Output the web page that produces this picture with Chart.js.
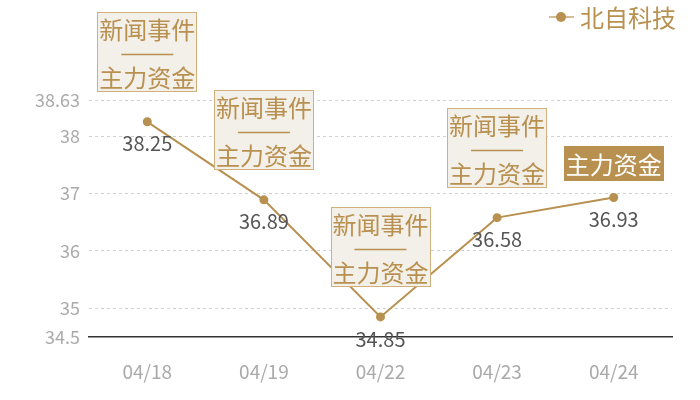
<!DOCTYPE html>
<html>
<head>
<meta charset="utf-8">
<script src="https://cdn.jsdelivr.net/npm/chart.js@4/dist/chart.umd.min.js"></script>
<style>
  html, body { margin: 0; padding: 0; background: #fff; }
  #wrap { width: 700px; height: 400px; }
</style>
</head>
<body>
<div id="wrap"><canvas id="priceChart"></canvas></div>
<script>
// data
const dates = ['04/18', '04/19', '04/22', '04/23', '04/24'];
const prices = [38.25, 36.89, 34.85, 36.58, 36.93];
const yTicks = [34.5, 35, 36, 37, 38, 38.63];
const seriesName = '北自科技';
// annotation per point: lines of text, and whether box is filled
const notes = [
    ['新闻事件', '——', '主力资金'],
    ['新闻事件', '——', '主力资金'],
    ['新闻事件', '——', '主力资金'],
    ['新闻事件', '——', '主力资金'],
    ['主力资金']
];
const noteFilled = [false, false, false, false, true];

const GOLD = '#b8904f';
const FONT = '"Noto Sans CJK SC", "Noto Sans", sans-serif';

// labels under points + annotation boxes + legend
const overlayPlugin = {
    id: 'overlay',
    afterDatasetsDraw(chart) {
        const ctx = chart.ctx;
        const meta = chart.getDatasetMeta(0);
        ctx.save();
        ctx.font = '20px ' + FONT;
        ctx.fillStyle = '#555';
        ctx.textAlign = 'center';
        ctx.textBaseline = 'middle';
        meta.data.forEach((pt, i) => {
            ctx.fillText(prices[i].toFixed(2), pt.x, pt.y + 22);
        });

        ctx.font = '24px ' + FONT;
        meta.data.forEach((pt, i) => {
            const lines = notes[i];
            const w = 100;
            const h = noteFilled[i] ? 35 : 80;
            const gap = noteFilled[i] ? 17 : 30;
            const x0 = Math.round(pt.x - w / 2);
            const y0 = Math.round(pt.y - gap - h);
            if (noteFilled[i]) {
                ctx.fillStyle = GOLD;
                ctx.fillRect(x0, y0, w, h);
                ctx.fillStyle = '#fff';
                ctx.fillText(lines[0], pt.x, y0 + h / 2 + 1);
            } else {
                ctx.fillStyle = '#f3efe9';
                ctx.fillRect(x0, y0, w, h);
                ctx.strokeStyle = '#d2b07c';
                ctx.lineWidth = 1;
                ctx.strokeRect(x0 + 0.5, y0 + 0.5, w - 1, h - 1);
                ctx.fillStyle = GOLD;
                ctx.fillText(lines[0], pt.x, y0 + 18);
                ctx.strokeStyle = GOLD;
                ctx.lineWidth = 1.5;
                ctx.beginPath();
                ctx.moveTo(pt.x - 26, y0 + 42.5);
                ctx.lineTo(pt.x + 26, y0 + 42.5);
                ctx.stroke();
                ctx.fillText(lines[2], pt.x, y0 + 66);
            }
        });

        // legend top right
        ctx.strokeStyle = 'rgba(184,144,79,0.6)';
        ctx.lineWidth = 2;
        ctx.beginPath();
        ctx.moveTo(549, 17);
        ctx.lineTo(574, 17);
        ctx.stroke();
        ctx.fillStyle = GOLD;
        ctx.beginPath();
        ctx.arc(561, 17, 5, 0, Math.PI * 2);
        ctx.fill();
        ctx.textAlign = 'left';
        ctx.font = '24px ' + FONT;
        ctx.fillText(seriesName, 580, 18);
        ctx.restore();
    }
};

function createPriceChart() {
    const ctx = document.getElementById('priceChart').getContext('2d');
    new Chart(ctx, {
        type: 'line',
        data: {
            labels: dates,
            datasets: [{
                label: seriesName,
                data: prices,
                borderColor: GOLD,
                backgroundColor: GOLD,
                borderWidth: 2,
                pointRadius: 4.5,
                pointHoverRadius: 4.5,
                pointBorderWidth: 0,
                tension: 0
            }]
        },
        options: {
            responsive: true,
            maintainAspectRatio: false,
            animation: false,
            layout: {
                padding: { top: 100, right: 28, bottom: 0, left: 0 }
            },
            plugins: {
                legend: { display: false },
                tooltip: { enabled: false }
            },
            scales: {
                x: {
                    offset: true,
                    afterFit: axis => { axis.height = 63; },
                    grid: { display: false, drawTicks: false },
                    border: { display: true, color: '#333', width: 1.5 },
                    ticks: {
                        color: '#aaa',
                        font: { family: FONT, size: 19 },
                        padding: 23
                    }
                },
                y: {
                    min: 34.5,
                    max: 38.63,
                    afterFit: axis => { axis.width = 89; },
                    afterBuildTicks: axis => {
                        axis.ticks = yTicks.map(v => ({ value: v }));
                    },
                    grid: {
                        color: '#d0d0d0',
                        drawTicks: false,
                        lineWidth: ctx => ctx.tick && ctx.tick.value === 34.5 ? 0 : 1
                    },
                    border: { display: false, dash: [3, 3] },
                    ticks: {
                        color: '#aaa',
                        font: { family: FONT, size: 18 },
                        padding: 9,
                        callback: v => String(v)
                    }
                }
            }
        },
        plugins: [overlayPlugin]
    });
}

document.addEventListener('DOMContentLoaded', createPriceChart);
</script>
</body>
</html>
